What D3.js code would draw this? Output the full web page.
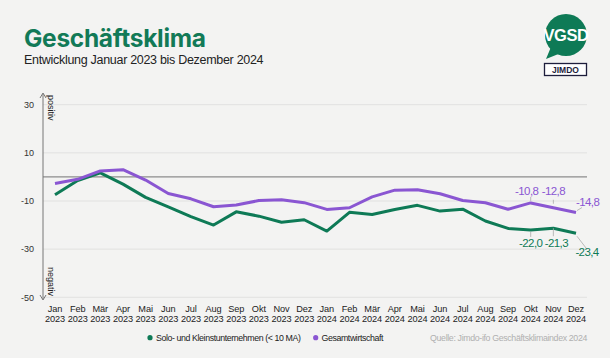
<!DOCTYPE html>
<html><head><meta charset="utf-8">
<script src="https://cdn.jsdelivr.net/npm/d3@7"></script>
<style>
html,body{margin:0;padding:0;background:#f3f3f2;}
svg{display:block;font-family:"Liberation Sans",Arial,sans-serif;}
</style></head>
<body>
<svg id="c" width="610" height="358"></svg>
<script>
const months = ["Jan","Feb","Mär","Apr","Mai","Jun","Jul","Aug","Sep","Okt","Nov","Dez","Jan","Feb","Mär","Apr","Mai","Jun","Jul","Aug","Sep","Okt","Nov","Dez"];
const years = ["2023","2023","2023","2023","2023","2023","2023","2023","2023","2023","2023","2023","2024","2024","2024","2024","2024","2024","2024","2024","2024","2024","2024","2024"];
const solo = [-7.4,-1.5,1.7,-3.0,-8.5,-12.4,-16.5,-20.0,-14.5,-16.3,-18.8,-17.8,-22.5,-14.7,-15.6,-13.5,-11.8,-14.2,-13.4,-18.3,-21.4,-22.0,-21.3,-23.4];
const gesamt = [-2.7,-1.0,2.5,3.0,-1.3,-6.9,-9.1,-12.4,-11.7,-9.8,-9.5,-10.7,-13.5,-12.8,-8.3,-5.5,-5.3,-7.0,-9.8,-10.7,-13.4,-10.8,-12.8,-14.8];
const yTicks = [30,10,-10,-30,-50];
const seriesNames = ["Solo- und Kleinstunternehmen (< 10 MA)","Gesamtwirtschaft"];
const colors = ["#0e7a56","#8a56d2"];
const labelIdx = [21,22,23];

const svg = d3.select("#c");
const x = d3.scalePoint().domain(d3.range(months.length)).range([55,576]);
const y = d3.scaleLinear().domain([-50,30]).range([297.3,104.7]);
const left = 43, right = 587;

// title
svg.append("text").attr("x",24).attr("y",47).attr("font-size",24.5).attr("font-weight","bold")
  .attr("fill","#127a57").attr("font-family","Inter, 'Liberation Sans', sans-serif").attr("letter-spacing","-0.3").text("Geschäftsklima");
svg.append("text").attr("x",24).attr("y",64).attr("font-size",12.5).attr("letter-spacing","-0.3").attr("fill","#222")
  .text("Entwicklung Januar 2023 bis Dezember 2024");

// gridlines
svg.append("g").selectAll("line").data(yTicks).join("line")
  .attr("x1",left).attr("x2",right).attr("y1",d=>y(d)).attr("y2",d=>y(d))
  .attr("stroke","#e1e1e0").attr("stroke-width",1);
svg.append("line").attr("x1",left).attr("x2",right).attr("y1",y(0)).attr("y2",y(0))
  .attr("stroke","#8c8c8c").attr("stroke-width",1.2);

// y labels
svg.append("g").selectAll("text").data(yTicks).join("text")
  .attr("x",34).attr("y",d=>y(d)+3.3).attr("text-anchor","end").attr("font-size",9).attr("fill","#333")
  .text(d=>d);

// y arrow axis
svg.append("line").attr("x1",left).attr("x2",left).attr("y1",94).attr("y2",299).attr("stroke","#777").attr("stroke-width",1);
svg.append("path").attr("d",`M${left-3},${98} L${left},${93} L${left+3},${98}`).attr("fill","none").attr("stroke","#777");
svg.append("path").attr("d",`M${left-3},${295} L${left},${300} L${left+3},${295}`).attr("fill","none").attr("stroke","#777");
svg.append("text").attr("transform",`translate(48,95) rotate(90)`).attr("font-size",9).attr("fill","#222").text("positiv");
svg.append("text").attr("transform",`translate(48,296) rotate(90)`).attr("text-anchor","end").attr("font-size",9).attr("fill","#222").text("negativ");

// x labels
const xl = svg.append("g").selectAll("text").data(months).join("text")
  .attr("x",(d,i)=>x(i)).attr("text-anchor","middle").attr("font-size",9.2).attr("letter-spacing","-0.1").attr("fill","#222");
xl.append("tspan").attr("x",(d,i)=>x(i)).attr("y",312).text(d=>d);
xl.append("tspan").attr("x",(d,i)=>x(i)).attr("y",322).text((d,i)=>years[i]);

// lines
const line = d3.line().x((d,i)=>x(i)).y(d=>y(d));
[solo,gesamt].forEach((s,k)=>{
  svg.append("path").datum(s).attr("d",line).attr("fill","none").attr("stroke",colors[k])
    .attr("stroke-width",3).attr("stroke-linejoin","round");
});

// value labels
const fmt = v => d3.format(".1f")(v).replace(".",",").replace("−","-");
// [leader x1,y1,x2,y2 offsets from point, text dx, text dy, anchor]
const pOff = [[0,-6,0,-2,-4,-8,"middle"],[0,-8,0,-4,0,-13,"middle"],[1,-2,6,-5,0,-6.5,"start"]];
labelIdx.forEach((idx,j)=>{
  const px = x(idx), py = y(gesamt[idx]);
  const o = pOff[j];
  svg.append("line").attr("x1",px+o[0]).attr("y1",py+o[1]).attr("x2",px+o[2]).attr("y2",py+o[3]).attr("stroke","#aaa").attr("stroke-width",0.8);
  svg.append("text").attr("x",px+o[4]).attr("y",py+o[5]).attr("text-anchor",o[6])
    .attr("font-size",11.5).attr("letter-spacing","-0.6").attr("fill",colors[1]).text(fmt(gesamt[idx]));
});
const gOff = [[0,2,0,7,0,17,"middle"],[0,0,0,8,3,19,"middle"],[1,3,11,16,11,23,"middle"]];
labelIdx.forEach((idx,j)=>{
  const px = x(idx), py = y(solo[idx]);
  const o = gOff[j];
  svg.append("line").attr("x1",px+o[0]).attr("y1",py+o[1]).attr("x2",px+o[2]).attr("y2",py+o[3]).attr("stroke","#aaa").attr("stroke-width",0.8);
  svg.append("text").attr("x",px+o[4]).attr("y",py+o[5]).attr("text-anchor",o[6])
    .attr("font-size",11.5).attr("letter-spacing","-0.6").attr("fill",colors[0]).text(fmt(solo[idx]));
});

// legend
const lg = [[150,156],[315.7,321.5]];
seriesNames.forEach((n,k)=>{
  svg.append("circle").attr("cx",lg[k][0]).attr("cy",337.7).attr("r",2.6).attr("fill",colors[k]);
  svg.append("text").attr("x",lg[k][1]).attr("y",341).attr("font-size",8.8).attr("letter-spacing","-0.4").attr("fill","#222").text(n);
});
svg.append("text").attr("x",587).attr("y",341).attr("text-anchor","end").attr("font-size",8.8).attr("letter-spacing","-0.35").attr("fill","#b0b0b0")
  .text("Quelle: Jimdo-ifo Geschäftsklimaindex 2024");

// logos
const lgG = svg.append("g");
lgG.append("path").attr("d","M551,47 L546,59 L561,53 Z").attr("fill","#0e7a56");
lgG.append("circle").attr("cx",566).attr("cy",35).attr("r",21).attr("fill","#0e7a56");
lgG.append("text").attr("x",566).attr("y",41).attr("text-anchor","middle").attr("font-size",16.5).attr("font-weight","bold")
  .attr("fill","#fff").attr("letter-spacing","-0.5").text("VGSD");
lgG.append("rect").attr("x",544.5).attr("y",63.5).attr("width",42).attr("height",12).attr("fill","#fff").attr("stroke","#1e1e3c").attr("stroke-width",1.3);
lgG.append("text").attr("x",565.5).attr("y",73).attr("text-anchor","middle").attr("font-size",8.5).attr("font-weight","bold")
  .attr("fill","#1e1e3c").text("JIMDO");
</script>
</body></html>
